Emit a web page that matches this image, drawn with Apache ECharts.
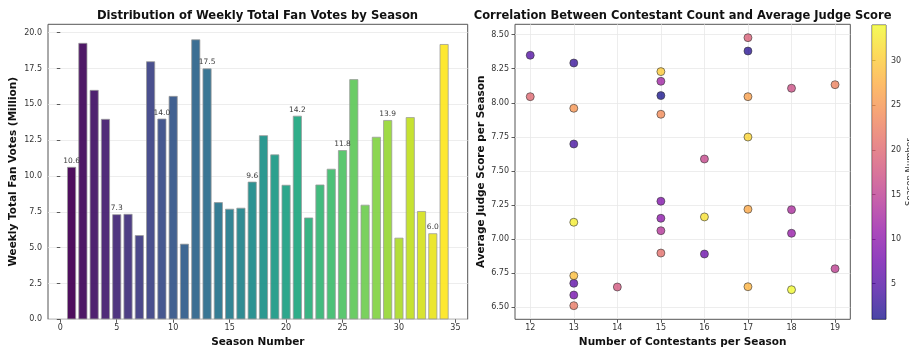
<!DOCTYPE html>
<html><head><meta charset="utf-8">
<script src="https://cdn.jsdelivr.net/npm/echarts@6/dist/echarts.min.js"></script>
<style>html,body{margin:0;padding:0;background:#fff}#c{width:909px;height:349px}</style>
</head><body><div id="c"></div>
<script>
// ---- data ----
const seasons = [1,2,3,4,5,6,7,8,9,10,11,12,13,14,15,16,17,18,19,20,21,22,23,24,25,26,27,28,29,30,31,32,33,34];
const fanVotes = [10.63,19.28,16.0,13.98,7.33,7.35,5.87,18.0,14.0,15.58,5.27,19.53,17.5,8.17,7.71,7.78,9.6,12.84,11.5,9.38,14.2,7.1,9.4,10.5,11.8,16.75,7.99,12.73,13.9,5.69,14.1,7.55,6.0,19.2];
const labeledSeasons = [1,5,9,13,17,21,25,29,33];
const contestants = [15,17,13,13,12,13,16,13,15,15,18,15,18,15,19,16,18,14,17,12,15,13,19,15,13,17,17,17,13,15,17,16,13,18];
const judgeScores = [8.053,8.38,8.292,7.698,8.349,6.676,6.891,6.59,7.278,7.153,7.043,8.158,7.216,7.062,6.783,7.588,8.107,6.649,8.478,8.045,6.898,6.512,8.133,7.916,7.96,8.045,7.219,6.651,6.732,8.229,7.749,7.163,7.124,6.629];
const voteTicks = [0,2.5,5,7.5,10,12.5,15,17.5,20];
const seasonTicks = [0,5,10,15,20,25,30,35];
const contestantTicks = [12,13,14,15,16,17,18,19];
const scoreTicks = [6.5,6.75,7.0,7.25,7.5,7.75,8.0,8.25,8.5];
const colorbarTicks = [5,10,15,20,25,30];

const leftTitle = 'Distribution of Weekly Total Fan Votes by Season';
const rightTitle = 'Correlation Between Contestant Count and Average Judge Score';

// ---- colormaps ----
const viridis = ['#440154','#482475','#414487','#355f8d','#2a788e','#21918c','#22a884','#44bf70','#7ad151','#bddf26','#fde725'];
const plasma = ['#0d0887','#41049d','#6a00a8','#8f0da4','#b12a90','#cc4778','#e16462','#f2844b','#fca636','#fcce25','#f0f921'];
const ALPHA = 0.75;
function rgba(hex, a){const n=parseInt(hex.slice(1),16);return `rgba(${n>>16},${(n>>8)&255},${n&255},${a})`;}

const FONT = 'DejaVu Sans';
const sMin = Math.min(...seasons), sMax = Math.max(...seasons);

const chart = echarts.init(document.getElementById('c'), null, {renderer:'canvas'});

const tickStyle = {show:true, length:3.5, lineStyle:{color:'#333', width:0.8}};
const labelStyle = {color:'#333', fontSize:8, fontFamily:FONT};
const nameStyle = {color:'#111', fontSize:10.5, fontWeight:'bold', fontFamily:FONT};
const gridLine = {show:true, lineStyle:{color:'#e8e8e8', width:0.8}};

chart.setOption({
  animation:false,
  textStyle:{fontFamily:FONT},
  graphic:[
    {type:'text', x:257.5, y:16, style:{text:leftTitle, align:'center', verticalAlign:'middle', font:`bold 11.6px "${FONT}"`, fill:'#111'}},
    {type:'text', x:682.6, y:16, style:{text:rightTitle, align:'center', verticalAlign:'middle', font:`bold 11.5px "${FONT}"`, fill:'#111'}}
  ],
  grid:[
    {left:48, top:24.3, width:419.7, height:295, show:true, borderColor:'#555', borderWidth:1, containLabel:false, outerBoundsMode:'none'},
    {left:515, top:24.3, width:335.3, height:295, show:true, borderColor:'#555', borderWidth:1, containLabel:false, outerBoundsMode:'none'},
    {left:872, top:25, width:14, height:294.3, show:true, borderColor:'#555', borderWidth:1, containLabel:false, outerBoundsMode:'none'}
  ],
  visualMap:[
    {type:'continuous', show:false, seriesIndex:0, dimension:0, min:sMin, max:sMax, inRange:{color:viridis}},
    {type:'continuous', show:false, seriesIndex:1, dimension:2, min:sMin, max:sMax, inRange:{color:plasma}}
  ],
  xAxis:[
    {type:'value', gridIndex:0, min:-1.09, max:36.09, axisLine:{show:false},
     axisTick:Object.assign({customValues:seasonTicks}, tickStyle),
     axisLabel:Object.assign({customValues:seasonTicks, margin:5}, labelStyle),
     splitLine:{show:false},
     name:'Season Number', nameLocation:'middle', nameGap:16, nameTextStyle:nameStyle},
    {type:'value', gridIndex:1, min:11.65, max:19.35, axisLine:{show:false},
     axisTick:Object.assign({customValues:contestantTicks}, tickStyle),
     axisLabel:Object.assign({customValues:contestantTicks, margin:5}, labelStyle),
     splitLine:gridLine,
     name:'Number of Contestants per Season', nameLocation:'middle', nameGap:16, nameTextStyle:nameStyle},
    {type:'value', gridIndex:2, min:0, max:1, show:false}
  ],
  yAxis:[
    {type:'value', gridIndex:0, min:0, max:20.58, axisLine:{show:false},
     axisTick:Object.assign({customValues:voteTicks}, tickStyle),
     axisLabel:Object.assign({customValues:voteTicks, margin:6, formatter:v=>v.toFixed(1)}, labelStyle),
     splitLine:gridLine,
     name:'Weekly Total Fan Votes (Million)', nameLocation:'middle', nameGap:29, nameRotate:90, nameTextStyle:nameStyle},
    {type:'value', gridIndex:1, min:6.412, max:8.576, axisLine:{show:false},
     axisTick:Object.assign({customValues:scoreTicks}, tickStyle),
     axisLabel:Object.assign({customValues:scoreTicks, margin:6, formatter:v=>v.toFixed(2)}, labelStyle),
     splitLine:gridLine,
     name:'Average Judge Score per Season', nameLocation:'middle', nameGap:28, nameRotate:90, nameTextStyle:nameStyle},
    {type:'value', gridIndex:2, position:'right', min:sMin, max:sMax, axisLine:{show:false},
     axisTick:Object.assign({customValues:colorbarTicks}, tickStyle),
     axisLabel:Object.assign({customValues:colorbarTicks, margin:5}, labelStyle),
     splitLine:{show:false},
     name:'Season Number', nameLocation:'middle', nameGap:19, nameRotate:90,
     nameTextStyle:{color:'#333', fontSize:8.5, fontFamily:FONT}}
  ],
  series:[
    {type:'bar', xAxisIndex:0, yAxisIndex:0, barWidth:9,
     data:seasons.map((s,i)=>({value:[s, fanVotes[i]],
        label:{show:labeledSeasons.includes(s), position:'top', distance:2, fontSize:7.5, color:'#333', fontFamily:FONT,
               formatter:p=>p.value[1].toFixed(1)}})),
     itemStyle:{borderColor:'#999', borderWidth:0.8, opacity:0.95}},
    {type:'scatter', xAxisIndex:1, yAxisIndex:1, symbolSize:8,
     data:seasons.map((s,i)=>[contestants[i], judgeScores[i], s]),
     itemStyle:{borderColor:'#333', borderWidth:0.8, opacity:ALPHA}},
    {type:'custom', xAxisIndex:2, yAxisIndex:2, silent:true,
     data:[[0, sMin, sMax]],
     encode:{x:0, y:[1,2]},
     renderItem:(params, api)=>{
       const cs = params.coordSys;
       const pLo = api.coord([0, api.value(1)]);
       const pHi = api.coord([0, api.value(2)]);
       const stops = plasma.map((c,k)=>({offset:k/(plasma.length-1), color:rgba(c, ALPHA)}));
       return {type:'rect', shape:{x:cs.x, y:pHi[1], width:cs.width, height:pLo[1]-pHi[1]},
               style:{fill:new echarts.graphic.LinearGradient(0,1,0,0,stops)}};
     }}
  ]
});
</script></body></html>
